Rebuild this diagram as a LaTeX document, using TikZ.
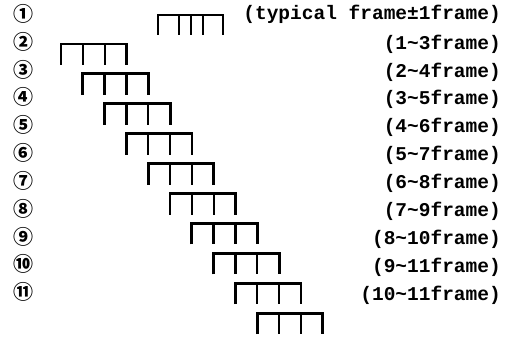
\documentclass[tikz,border=0pt]{standalone}
\usepackage{fontspec}
\setmonofont{Liberation Mono}
\newfontfamily\cjkfont{Noto Sans CJK SC}
\begin{document}
\begin{tikzpicture}[x=1pt,y=-1pt,
  lbl/.style={anchor=east, font=\ttfamily\bfseries\fontsize{19.5}{19.5}\selectfont, inner sep=0pt},
  num/.style={font=\cjkfont\bfseries\fontsize{20}{20}\selectfont, inner sep=0pt},
  comb/.style={line width=2.8pt, line join=miter},
  leg/.style={line width=2.3pt}]
\useasboundingbox (0,0) rectangle (508,339);
% circled numbers
\foreach \c [count=\i] in {①,②,③,④,⑤,⑥,⑦,⑧,⑨,⑩,⑪}{
  \node[num] (n\i) at (23,{14+(\i-1)*27.8}) {\c};
}
% labels
\node[lbl] (l1) at (501,14) {(typical frame±1frame)};
\foreach \t [count=\i from 2] in {{(1\textasciitilde3frame)},{(2\textasciitilde4frame)},{(3\textasciitilde5frame)},{(4\textasciitilde6frame)},{(5\textasciitilde7frame)},{(6\textasciitilde8frame)},{(7\textasciitilde9frame)},{(8\textasciitilde10frame)},{(9\textasciitilde11frame)},{(10\textasciitilde11frame)}}{
  \node[lbl] (l\i) at (501,{44+(\i-2)*27.9}) {\t};
}
% typical frame comb
\draw[comb] (158,35) -- (158,15) -- (223,15) -- (223,35);
\draw[leg] (179,15) -- (179,35) (191,15) -- (191,35) (203,15) -- (203,35);
% shifted combs
\foreach \i in {2,...,11}{
  \pgfmathsetmacro\L{61+(\i-2)*21.8}
  \pgfmathsetmacro\T{44+(\i-2)*29.9}
  \draw[comb] (\L,\T+21) -- (\L,\T) -- (\L+65.5,\T) -- (\L+65.5,\T+21);
  \draw[leg] (\L+21.8,\T) -- (\L+21.8,\T+21) (\L+43.7,\T) -- (\L+43.7,\T+21);
}
\end{tikzpicture}
\end{document}
